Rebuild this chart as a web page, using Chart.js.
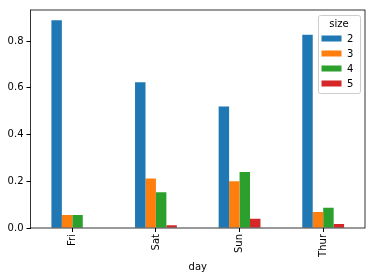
<!DOCTYPE html>
<html>
<head>
<meta charset="utf-8">
<script src="https://cdn.jsdelivr.net/npm/chart.js@4"></script>
<style>
  html, body { margin: 0; padding: 0; background: #fff; }
  #wrap { width: 375px; height: 279px; }
</style>
</head>
<body>
<div id="wrap"><canvas id="myChart" width="375" height="279"></canvas></div>
<script>
const days = ["Fri", "Sat", "Sun", "Thur"];
const sizes = ["2", "3", "4", "5"];
const size2 = [0.8889, 0.6235, 0.52, 0.8276];
const size3 = [0.0556, 0.2118, 0.2, 0.069];
const size4 = [0.0556, 0.1529, 0.24, 0.0862];
const size5 = [0, 0.0118, 0.04, 0.0172];
const yTicks = [0, 0.2, 0.4, 0.6, 0.8];
const colors = ["#1f77b4", "#ff7f0e", "#2ca02c", "#d62728"];

const FONT = "DejaVu Sans";

// frame on all four sides + legend box inside the plot
const framePlugin = {
  id: "frame",
  afterDraw(chart) {
    const ctx = chart.ctx;
    const a = chart.chartArea;
    ctx.save();
    ctx.strokeStyle = "#000";
    ctx.lineWidth = 0.8;
    ctx.strokeRect(a.left, a.top, a.right - a.left, a.bottom - a.top);

    // legend
    const x0 = 318, y0 = 15, w = 42, h = 78;
    ctx.fillStyle = "rgba(255,255,255,0.8)";
    ctx.strokeStyle = "#cccccc";
    ctx.lineWidth = 1;
    ctx.beginPath();
    ctx.roundRect(x0 + 0.5, y0 + 0.5, w, h, 2);
    ctx.fill();
    ctx.stroke();
    ctx.fillStyle = "#000";
    ctx.font = "10px '" + FONT + "'";
    ctx.textAlign = "center";
    ctx.textBaseline = "middle";
    ctx.fillText("size", x0 + w / 2, y0 + 9);
    chart.data.datasets.forEach((ds, i) => {
      const cy = 38.5 + i * 15;
      ctx.fillStyle = ds.backgroundColor;
      ctx.fillRect(321.5, cy - 3, 20, 6);
      ctx.fillStyle = "#000";
      ctx.textAlign = "left";
      ctx.fillText(ds.label, 347, cy + 0.5);
    });
    ctx.restore();
  },
};

const data = {
  labels: days,
  datasets: [size2, size3, size4, size5].map((vals, i) => ({
    label: sizes[i],
    data: vals,
    backgroundColor: colors[i],
    borderWidth: 0,
    barPercentage: 1,
    categoryPercentage: 0.5,
  })),
};

const config = {
  type: "bar",
  data: data,
  options: {
    responsive: false,
    animation: false,
    layout: { padding: { top: 10, right: 10, left: 0, bottom: 0 } },
    plugins: {
      legend: { display: false },
      tooltip: { enabled: false },
    },
    scales: {
      x: {
        offset: true,
        afterFit(scale) { scale.height = 51; },
        grid: {
          display: true,
          drawOnChartArea: false,
          drawTicks: true,
          tickLength: 4,
          color: "#000",
          offset: false,
        },
        border: { display: false },
        ticks: {
          color: "#000",
          font: { family: FONT, size: 10 },
          maxRotation: 90,
          minRotation: 90,
          padding: 2,
        },
        title: {
          display: true,
          text: "day",
          color: "#000",
          font: { family: FONT, size: 10 },
          padding: { top: 0, bottom: 6 },
        },
      },
      y: {
        min: 0,
        max: 0.9333,
        afterFit(scale) { scale.width = 30.5; },
        afterBuildTicks(scale) { scale.ticks = yTicks.map(v => ({ value: v })); },
        grid: {
          display: true,
          drawOnChartArea: false,
          drawTicks: true,
          tickLength: 4,
          color: "#000",
        },
        border: { display: false },
        ticks: {
          color: "#000",
          font: { family: FONT, size: 10 },
          padding: 3,
          callback: v => v.toFixed(1),
        },
      },
    },
  },
  plugins: [framePlugin],
};

const myChart = new Chart(document.getElementById("myChart"), config);
</script>
</body>
</html>
